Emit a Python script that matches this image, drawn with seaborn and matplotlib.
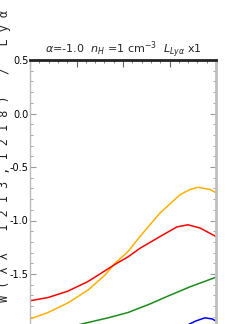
import numpy as np
import pandas as pd
import matplotlib
matplotlib.use('Agg')
import matplotlib.pyplot as plt
from matplotlib.ticker import MultipleLocator
import seaborn as sns

sns.set_style('ticks')
plt.rcParams['font.family'] = ['DejaVu Sans']

# curve values (x normalised across the panel)
x_orange = [0.0, 0.097, 0.204, 0.312, 0.403, 0.457, 0.527, 0.591, 0.699, 0.806, 0.86, 0.903, 0.968, 1.0]
y_orange = [-1.92, -1.86, -1.77, -1.65, -1.51, -1.40, -1.29, -1.15, -0.93, -0.76, -0.71, -0.69, -0.71, -0.74]

x_red = [0.0, 0.097, 0.204, 0.312, 0.403, 0.457, 0.527, 0.591, 0.699, 0.79, 0.849, 0.914, 1.0]
y_red = [-1.75, -1.72, -1.66, -1.57, -1.47, -1.41, -1.34, -1.26, -1.15, -1.06, -1.04, -1.07, -1.15]

x_green = [0.0, 0.2, 0.296, 0.419, 0.527, 0.645, 0.737, 0.86, 1.0]
y_green = [-2.04, -2.0, -1.96, -1.91, -1.86, -1.78, -1.71, -1.62, -1.53]

x_blue = [0.0, 0.38, 0.65, 0.82, 0.89, 0.94, 0.98, 1.0]
y_blue = [-2.4, -2.25, -2.1, -2.0, -1.94, -1.91, -1.92, -1.94]

ytick_vals = [0.5, 0.0, -0.5, -1.0, -1.5, -2.0]
ytick_text = ['0.5', '0.0', '-0.5', '-1.0', '-1.5', '-2.0']

series = {
    'orange': (x_orange, y_orange, '#ffb000'),
    'red': (x_red, y_red, '#ff0000'),
    'green': (x_green, y_green, '#1a8c1a'),
    'blue': (x_blue, y_blue, '#0000ff'),
}

fig = plt.figure(figsize=(2.4, 3.24), dpi=100)
ax = fig.add_axes([30 / 240, (324 - 381) / 324, 186 / 240, 321 / 324])

for name, (xs, ys, col) in series.items():
    df = pd.DataFrame({'x': xs, 'y': ys})
    sns.lineplot(data=df, x='x', y='y', color=col, lw=1.1, ax=ax, sort=False)

ax.set_xlim(0, 1)
ax.set_ylim(-2.5, 0.5)
ax.yaxis.set_minor_locator(MultipleLocator(0.1))
ax.xaxis.set_major_locator(MultipleLocator(0.25))
ax.xaxis.set_minor_locator(MultipleLocator(0.05))
ax.set_yticks(ytick_vals)
ax.set_yticklabels(ytick_text)
ax.tick_params(axis='y', which='both', direction='in', left=True, right=True,
               labelsize=7, pad=1, colors='#999999', labelcolor='black')
ax.tick_params(axis='y', which='major', length=4)
ax.tick_params(axis='y', which='minor', length=2)
ax.tick_params(axis='x', which='both', direction='in', top=True, bottom=False,
               labelbottom=False, colors='#666666')
ax.tick_params(axis='x', which='major', length=5)
ax.tick_params(axis='x', which='minor', length=2.5)
ax.set_xlabel('')
ax.set_ylabel('')

ax.spines['top'].set_color('#222222')
ax.spines['top'].set_linewidth(2)
ax.spines['left'].set_color('#bbbbbb')
ax.spines['left'].set_linewidth(1)
ax.spines['right'].set_color('#c0c0c0')
ax.spines['right'].set_linewidth(2)

ax.set_title(r'$\alpha$=-1.0  $n_H$ =1 cm$^{-3}$  $L_{Ly\alpha}$ x1', fontsize=8, pad=4)

ylab = 'W ( \u03bb \u03bb   1 2 1 3 , 1 2 1 8 )   /   L y \u03b1'
fig.text(5 / 240, 1 - 10 / 324, ylab, rotation=90, ha='center', va='top',
         fontsize=8.5, color='#222222', family=['DejaVu Sans Mono', 'DejaVu Sans'])

fig.savefig('out.png', dpi=100)
